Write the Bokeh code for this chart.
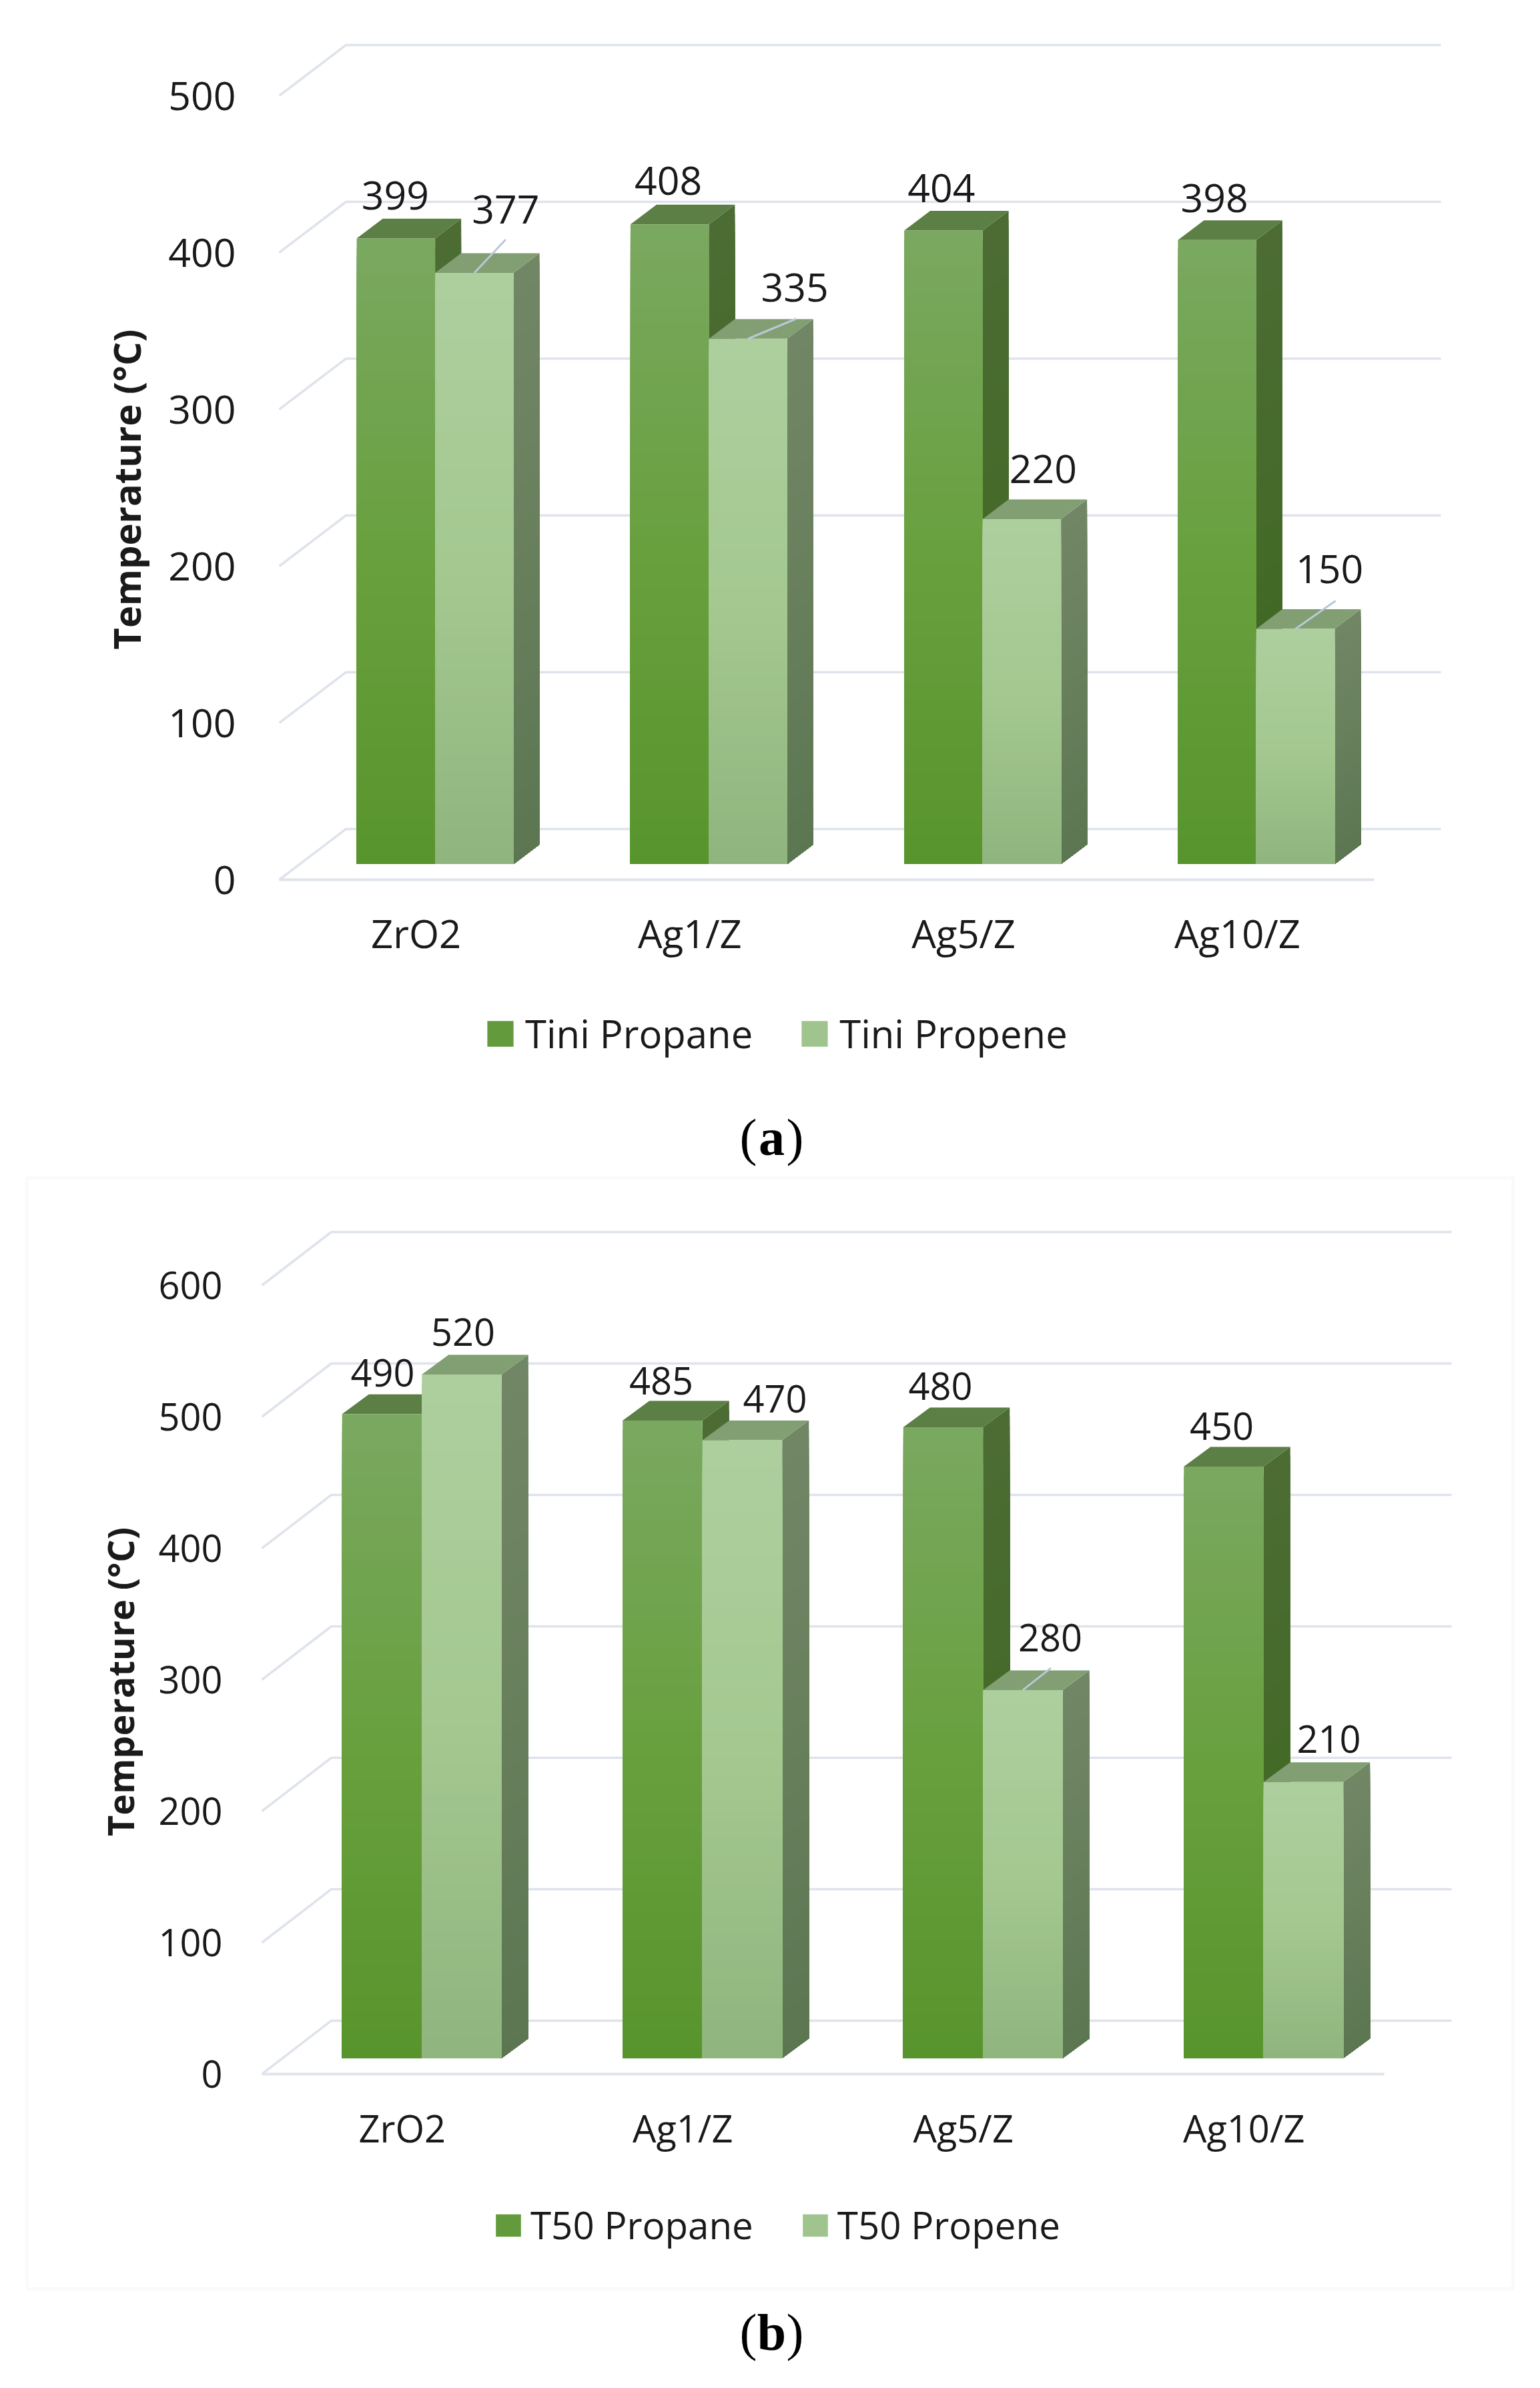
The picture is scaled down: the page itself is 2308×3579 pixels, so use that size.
from bokeh.embed import file_html
from bokeh.resources import INLINE
from bokeh.layouts import column
from bokeh.models import (ColumnDataSource, FixedTicker, Label, Legend, LegendItem,
                          LinearAxis, Range1d, BoxAnnotation)
from bokeh.plotting import figure
from bokeh.core.properties import value
import math

categories = ["ZrO2", "Ag1/Z", "Ag5/Z", "Ag10/Z"]
tini_propane = [399, 408, 404, 398]
tini_propene = [377, 335, 220, 150]
t50_propane = [490, 485, 480, 450]
t50_propene = [520, 470, 280, 210]
ticks_a = [0, 100, 200, 300, 400, 500]
ticks_b = [0, 100, 200, 300, 400, 500, 600]

FONT = "Open Sans"
TEXT = "#1a1a1a"
GRID = "#dfe3eb"
LEADER = "#bcc7d8"
FIG_W = 2300
BORDER = 1
STANDOFF = 150

# layout constants: page pixels of the oblique projection
A = dict(fig_top=0, fig_h=1758,
         front_l=418, front_r=2059, zero_y=1318, ppu=2.35,
         grid_dx=100, grid_dy=76, back_r=2159,
         bar_base=23.5, bar_off=-89, bar_w=117.5, depth_x=39, depth_y=29.5,
         fs=59, cat_fs=58, leg_fs=58, tick_right=353, cat_top=1358,
         title=("Temperature (°C)", 188, 733, 56),
         legend=(724, 169), swatch=(49, 48), leg_standoff=13, leg_spacing=68,
         caption=("a", 1156, 1704),
         names=("Tini Propane", "Tini Propene"),
         lab1=[(-1, -64), (-2, -65), (-3, -64), (-4, -63)],
         lab2=[(47, -95), (70, -77), (32, -75), (51, -90)],
         lead2=[(47, -50), (72, -30), None, (60, -42)])
B = dict(fig_top=1758, fig_h=1817,
         front_l=392, front_r=2074, zero_y=3108, ppu=1.97,
         grid_dx=104, grid_dy=80, back_r=2175,
         bar_base=24, bar_off=-90, bar_w=119.5, depth_x=40, depth_y=29.5,
         fs=56, cat_fs=56, leg_fs=56.5, tick_right=333, cat_top=3150,
         title=("Temperature (°C)", 179, 2520, 54),
         legend=(737, 201), swatch=(47, 42), leg_standoff=10, leg_spacing=69,
         caption=("b", 1156, 3495),
         names=("T50 Propane", "T50 Propene"),
         lab1=[(1, -62), (-2, -60), (-4, -61), (-3, -61)],
         lab2=[(2, -64), (49, -62), (41, -78), (38, -64)],
         lead2=[None, None, (42, -33), None],
         panel=(40, 2267, 1765, 3430))

PROPANE = dict(front=((122, 168, 96), (104, 160, 62), (88, 148, 44)),
               side=((76, 108, 52), (68, 106, 40), (58, 98, 30)),
               top="#5c7f45", swatch="#629a3c")
PROPENE = dict(front=((173, 207, 158), (164, 200, 144), (143, 180, 125)),
               side=((113, 134, 101), (104, 127, 92), (92, 118, 82)),
               top="#819f72", swatch="#a0c48e")
BANDS = 70


def mix(stops, t):
    seg = (stops[0], stops[1]) if t < 0.5 else (stops[1], stops[2])
    u = t * 2 if t < 0.5 else (t - 0.5) * 2
    c = [round(seg[0][i] + (seg[1][i] - seg[0][i]) * u) for i in range(3)]
    return "#%02x%02x%02x" % tuple(c)


def chart(cfg, propane, propene, ticks):
    # the frame fills the figure, so no annotation is clipped by it
    fl, fr = BORDER, FIG_W - BORDER
    ft, fb = cfg["fig_top"] + BORDER, cfg["fig_top"] + cfg["fig_h"] - BORDER
    pitch = (cfg["front_r"] - cfg["front_l"]) / len(categories)
    c0 = cfg["front_l"] + pitch / 2
    ppu = cfg["ppu"]
    X = lambda px: (px - c0) / pitch
    Y = lambda py: (cfg["zero_y"] - py) / ppu
    dxu = lambda px: px / pitch
    dyu = lambda px: px / ppu

    p = figure(width=FIG_W, height=cfg["fig_h"], output_backend="svg", toolbar_location=None,
               x_range=Range1d(X(fl), X(fr)), y_range=Range1d(Y(fb), Y(ft)),
               x_axis_location=None, y_axis_location=None,
               min_border_left=BORDER, min_border_right=BORDER,
               min_border_top=BORDER, min_border_bottom=BORDER,
               background_fill_color="white", border_fill_color="white",
               outline_line_color=None)
    p.grid.visible = False

    # axes inside the frame: fixed location plus a negative standoff
    yax = LinearAxis(ticker=FixedTicker(ticks=ticks), axis_line_color=None,
                     major_tick_line_color=None, minor_tick_line_color=None,
                     major_tick_in=0, major_tick_out=0,
                     fixed_location=X(cfg["tick_right"] - STANDOFF),
                     major_label_standoff=-STANDOFF,
                     major_label_text_font=FONT, major_label_text_color=TEXT,
                     major_label_text_font_size=f'{cfg["fs"]}px')
    p.add_layout(yax, "left")
    xax = LinearAxis(ticker=FixedTicker(ticks=list(range(len(categories)))),
                     major_label_overrides={i: c for i, c in enumerate(categories)},
                     axis_line_color=None, major_tick_line_color=None, minor_tick_line_color=None,
                     major_tick_in=0, major_tick_out=0,
                     fixed_location=Y(cfg["cat_top"] + STANDOFF),
                     major_label_standoff=-STANDOFF,
                     major_label_text_font=FONT, major_label_text_color=TEXT,
                     major_label_text_font_size=f'{cfg["cat_fs"]}px')
    p.add_layout(xax, "below")

    if "panel" in cfg:
        l, r, t, b = cfg["panel"]
        p.add_layout(BoxAnnotation(left=X(l), right=X(r), top=Y(t), bottom=Y(b),
                                   fill_color=None, line_color="#e9edf4", line_width=5))

    # gridlines: front-left stub running back, then along the back wall
    gx0, gx1, gx2 = X(cfg["front_l"]), X(cfg["front_l"] + cfg["grid_dx"]), X(cfg["back_r"])
    gdy = dyu(cfg["grid_dy"])
    p.multi_line([[gx0, gx1, gx2] for _ in ticks], [[t, t + gdy, t + gdy] for t in ticks],
                 line_color=GRID, line_width=3.5)
    p.line([gx0, X(cfg["front_r"])], [0, 0], line_color=GRID, line_width=4)

    base = dyu(cfg["bar_base"])
    w = dxu(cfg["bar_w"])
    dx = dxu(cfg["depth_x"])
    dy = dyu(cfg["depth_y"])
    off = dxu(cfg["bar_off"])

    xs, ys, cols = [], [], []
    for i in range(len(categories)):
        for s, (vals, st) in enumerate(((propane, PROPANE), (propene, PROPENE))):
            v = vals[i]
            left = i + off + s * w
            right = left + w
            # side face, nested bands so no seams appear
            for k in range(BANDS, 0, -1):
                h = v * k / BANDS
                xs.append([right, right + dx, right + dx, right])
                ys.append([base, base + dy, base + dy + h, base + h])
                cols.append(mix(st["side"], 1 - k / BANDS))
            xs.append([left, right, right + dx, left + dx])
            ys.append([base + v, base + v, base + v + dy, base + v + dy])
            cols.append(st["top"])
            for k in range(BANDS, 0, -1):
                h = v * k / BANDS
                xs.append([left, right, right, left])
                ys.append([base, base, base + h, base + h])
                cols.append(mix(st["front"], 1 - k / BANDS))
    src = ColumnDataSource(dict(xs=xs, ys=ys, c=cols))
    p.patches("xs", "ys", source=src, fill_color="c", line_color=None)

    # data labels and leader lines
    tx, ty, tt = [], [], []
    sx0, sy0, sx1, sy1 = [], [], [], []
    for s, (vals, labs) in enumerate(((propane, cfg["lab1"]), (propene, cfg["lab2"]))):
        for i, v in enumerate(vals):
            cx = i + off + s * w + w / 2
            top = base + v
            tx.append(cx + dxu(labs[i][0]))
            ty.append(top - dyu(labs[i][1]))
            tt.append(str(v))
            if s == 1 and cfg["lead2"][i]:
                a, b = cfg["lead2"][i]
                sx0.append(cx); sy0.append(top)
                sx1.append(cx + dxu(a)); sy1.append(top - dyu(b))
    p.segment(sx0, sy0, sx1, sy1, line_color=LEADER, line_width=3)
    p.text(tx, ty, tt, text_font=value(FONT), text_font_size=f'{cfg["fs"]}px',
           text_color=TEXT, text_align="center", text_baseline="middle")

    # value-axis title
    title, ax, ay, afs = cfg["title"]
    p.add_layout(Label(x=X(ax), y=Y(ay), text=title, angle=math.pi / 2, text_font=FONT,
                       text_font_style="bold", text_font_size=f"{afs}px", text_color=TEXT,
                       text_align="center", text_baseline="middle"))

    # legend: its swatch renderers sit out of view, below the frame
    far = Y(fb) - 1000
    r1 = p.quad(left=[0], right=[1], top=[far], bottom=[far - 1],
                fill_color=PROPANE["swatch"], line_color=None)
    r2 = p.quad(left=[0], right=[1], top=[far], bottom=[far - 1],
                fill_color=PROPENE["swatch"], line_color=None)
    leg = Legend(items=[LegendItem(label=cfg["names"][0], renderers=[r1]),
                        LegendItem(label=cfg["names"][1], renderers=[r2])],
                 orientation="horizontal", location=cfg["legend"],
                 background_fill_color=None, border_line_color=None, padding=0, margin=0,
                 glyph_width=cfg["swatch"][0], glyph_height=cfg["swatch"][1],
                 label_standoff=cfg["leg_standoff"], spacing=cfg["leg_spacing"],
                 label_text_font=FONT, label_text_color=TEXT,
                 label_text_font_size=f'{cfg["leg_fs"]}px', label_text_baseline="middle")
    p.add_layout(leg, "center")

    # panel caption
    letter, cx, cy = cfg["caption"]
    for txt, xpos, al, style in (("(", cx - 22, "right", "normal"), (letter, cx, "center", "bold"),
                                 (")", cx + 22, "left", "normal")):
        p.add_layout(Label(x=X(xpos), y=Y(cy), text=txt, text_font="Liberation Serif",
                           text_font_style=style, text_font_size="78px", text_color="#000000",
                           text_align=al, text_baseline="middle"))
    return p


fig_a = chart(A, tini_propane, tini_propene, ticks_a)
fig_b = chart(B, t50_propane, t50_propene, ticks_b)
page = column(fig_a, fig_b, spacing=0)
open("out.html", "w").write(file_html(page, INLINE))
